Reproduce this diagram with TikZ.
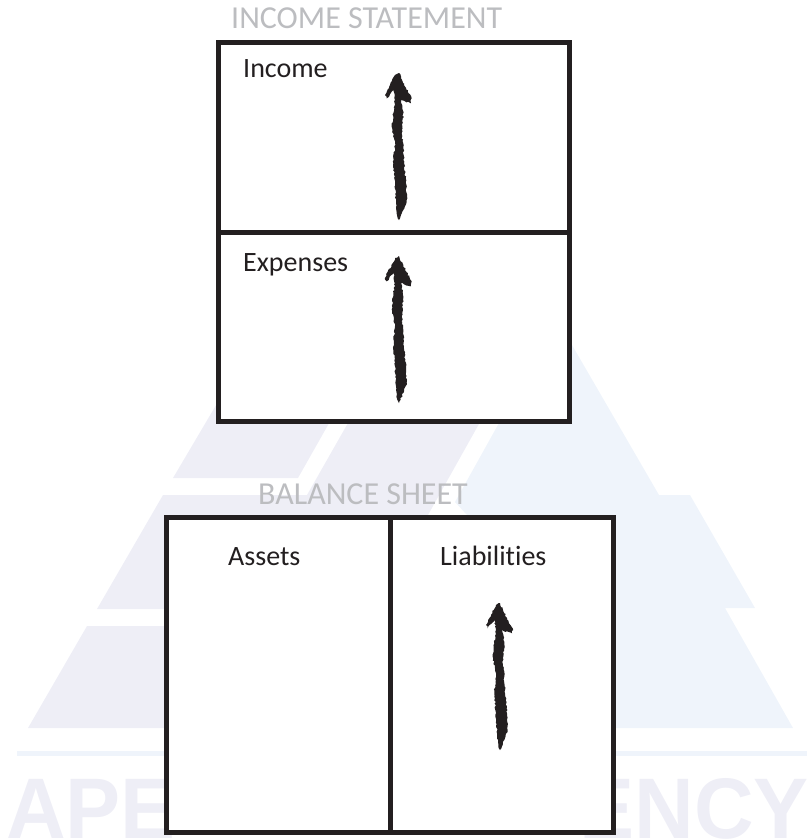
\documentclass[tikz,border=0pt]{standalone}
\usepackage{fontspec}
\setmainfont[Ligatures=CommonOff]{Carlito}
\newfontfamily\markfont[FakeStretch=0.96]{Liberation Sans}
\usetikzlibrary{decorations.pathmorphing, positioning}

\definecolor{ink}{HTML}{231F20}
\definecolor{headgrey}{HTML}{BCBDC0}
\definecolor{marklav}{HTML}{EEEEF6}
\definecolor{markblue}{HTML}{EFF4FB}

% tail, then tip: a brush stroke with a head
\newcommand{\brusharrow}[2]{
    \fill[brush] (#1) -- +(4.3,-10) -- +(7.7,-20) -- +(7,-36.7) -- +(5,-56.7)
        -- +(4.3,-73.3) -- +(2.7,-86.7) -- +(4.3,-106.7) -- +(2,-120)
        -- +(12,-116.7) -- +(12.7,-121.7) -- +(4.3,-136.7) -- (#2)
        -- +(-4,2) -- +(-14,22) -- +(-12.3,25.3) -- +(-5.7,17)
        -- +(-4,27) -- +(-5.7,40.3) -- +(-7.3,53.7) -- +(-4,70.3)
        -- +(-5.7,90.3) -- +(-4,110.3) -- +(-3,130.3) -- +(-1.7,143.7) -- cycle;
}

\begin{document}
\begin{tikzpicture}[
            x=1pt,
            y=-1pt,
            line join=miter
        ]

        \tikzstyle{ledger}=[
            draw=ink,
            line width=5pt,
            fill=white,
            outer sep=0pt,
            inner sep=0pt
        ]
        \tikzstyle{entry}=[
            anchor=base west,
            inner sep=0pt,
            text=ink,
            font=\fontsize{28}{30}\selectfont
        ]
        \tikzstyle{heading}=[
            anchor=base west,
            inner sep=0pt,
            text=headgrey,
            font=\fontsize{32}{34}\selectfont
        ]
        \tikzstyle{brand}=[
            inner sep=0pt,
            text=marklav,
            font=\fontsize{86}{90}\markfont\bfseries
        ]
        \tikzstyle{brush}=[
            fill=ink,
            decorate,
            decoration={random steps, segment length=1.8pt, amplitude=.8pt}
        ]

        \useasboundingbox (0,0) rectangle (809,839);

        % Pale mark behind everything
        \fill[markblue] (499,415) -- (499,423) -- (455,502) -- (467,515) -- (467,728)
            -- (793,728) -- (725,608) -- (755,608) -- (690,495) -- (659,495)
            -- (572,345) -- (557,320) -- (520,385) -- cycle;
        \fill[marklav] (353,415) -- (484,415) -- (428,515) -- (428,609) -- (97,609)
            -- (163,495) -- (307,495) -- (348,423) -- cycle;
        \fill[marklav] (222,395) -- (345,395) -- (298,478) -- (173,478) -- cycle;
        \fill[marklav] (87,626) -- (300,626) -- (300,728) -- (28,728) -- cycle;
        \fill[markblue] (17,751) rectangle (807,756);
        \node[brand, anchor=base west] (markleft) at (6,838) {APE};
        \node[brand, anchor=base east] (markright) at (809,838) {ENCY};

        % Income statement
        \node[heading] (incomehead) at (231,28) {INCOME STATEMENT};
        \node[ledger, anchor=north west, minimum width=351pt, minimum height=189.5pt] (income) at (218.5,42.5) {};
        \node[ledger, minimum width=351pt, minimum height=189.5pt] (expenses) [below=0pt of income] {};
        \node[entry] (incometext) at (243,77) {Income};
        \node[entry] (expensestext) at (243,271) {Expenses};

        % Balance sheet
        \node[heading] (balancehead) at (258,504) {BALANCE SHEET};
        \node[ledger, anchor=north west, minimum width=223.5pt, minimum height=315pt] (assets) at (166.5,517.5) {};
        \node[ledger, minimum width=223.5pt, minimum height=315pt] (liabilities) [right=0pt of assets] {};
        \node[entry] (assetstext) at (228,565) {Assets};
        \node[entry] (liabilitiestext) at (440,565) {Liabilities};

        % Arrows
        \coordinate (incometail) at (399,220);
        \coordinate (incometip) at (399,73);
        \coordinate (expensestail) at (399,403);
        \coordinate (expensestip) at (399,256);
        \coordinate (liabilitiestail) at (500,750);
        \coordinate (liabilitiestip) at (500,603);
        \brusharrow{incometail}{incometip}
        \brusharrow{expensestail}{expensestip}
        \brusharrow{liabilitiestail}{liabilitiestip}

    \end{tikzpicture}
\end{document}
